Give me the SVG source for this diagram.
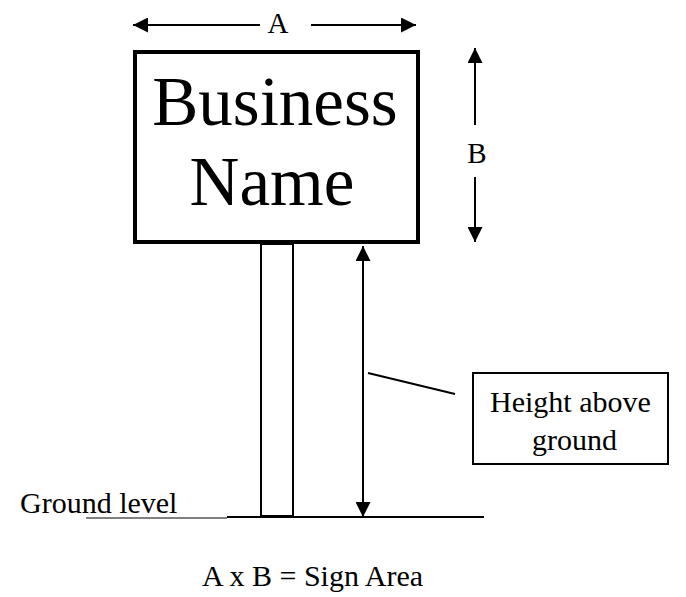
<svg xmlns="http://www.w3.org/2000/svg" width="686" height="597" viewBox="0 0 686 597">
<style>
text{font-family:"Liberation Serif","Times New Roman",serif;fill:#000}
.ln{stroke:#000;stroke-width:2;fill:none}
</style>
<defs>
<marker id="ah" viewBox="0 0 10 10" refX="10" refY="5" markerWidth="15" markerHeight="15" markerUnits="userSpaceOnUse" orient="auto-start-reverse">
<path d="M0,0 L10,5 L0,10 z" fill="#000"/>
</marker>
</defs>
<rect width="686" height="597" fill="#fff"/>
<g id="sign">
<rect x="135" y="52" width="283" height="190" fill="#fff" stroke="#000" stroke-width="4"/>
<text x="275" y="125" font-size="69" text-anchor="middle">Business</text>
<text x="272" y="205" font-size="69" text-anchor="middle">Name</text>
</g>
<g id="post">
<rect x="261" y="244" width="32" height="272" fill="#fff" stroke="#000" stroke-width="2"/>
</g>
<g id="ground">
<line x1="86" y1="518" x2="227" y2="518" stroke="#808080" stroke-width="2"/>
<line x1="227" y1="517" x2="484" y2="517" stroke="#000" stroke-width="2"/>
<text x="20" y="513" font-size="30">Ground level</text>
</g>
<g id="label">
<rect x="473" y="373" width="195" height="91" fill="#fff" stroke="#000" stroke-width="2"/>
<text x="490" y="412" font-size="30">Height above</text>
<text x="532" y="450" font-size="30">ground</text>
</g>
<g id="dimA">
<text x="278" y="33" font-size="29" text-anchor="middle">A</text>
</g>
<g id="dimB">
<text x="477" y="163" font-size="29" text-anchor="middle">B</text>
</g>
<g id="formula">
<text x="202" y="586" font-size="30">A x B = Sign Area</text>
</g>
<g id="connectors">
<line class="ln" x1="260" y1="25" x2="133" y2="25" marker-end="url(#ah)"/>
<line class="ln" x1="311" y1="25" x2="416" y2="25" marker-end="url(#ah)"/>
<line class="ln" x1="475" y1="125" x2="475" y2="48" marker-end="url(#ah)"/>
<line class="ln" x1="475" y1="177" x2="475" y2="242" marker-end="url(#ah)"/>
<line class="ln" x1="363" y1="246" x2="363" y2="517" marker-start="url(#ah)" marker-end="url(#ah)"/>
<line class="ln" x1="368" y1="373" x2="455" y2="394"/>
</g>
</svg>
